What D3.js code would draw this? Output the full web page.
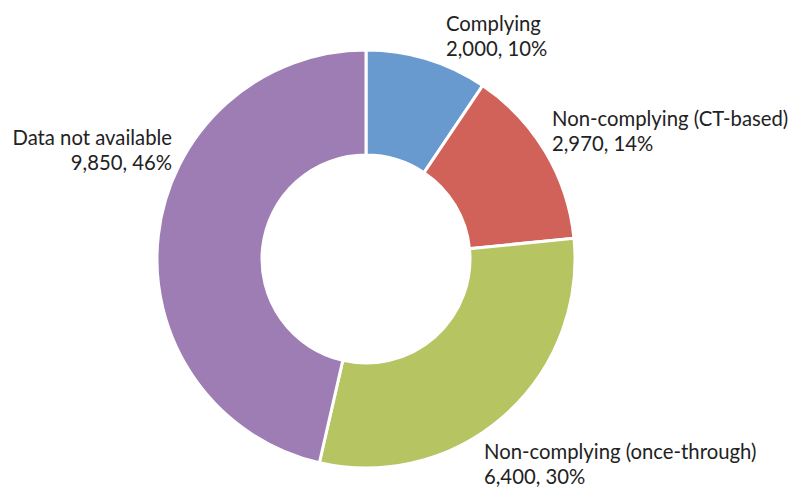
<!DOCTYPE html>
<html>
<head>
<meta charset="utf-8">
<script src="https://cdn.jsdelivr.net/npm/d3@7"></script>
<style>
  body { margin: 0; background: #fff; }
  text { font-family: "Lato", "Open Sans", sans-serif; fill: #222; }
</style>
</head>
<body>
<div class="chart"></div>
<script>
const categories = ["Complying", "Non-complying (CT-based)", "Non-complying (once-through)", "Data not available"];
const values = [2000, 2970, 6400, 9850];
const percents = [10, 14, 30, 46];
const colors = ["#6899cf", "#d0625a", "#b6c462", "#9d7db4"];

const width = 788, height = 489;
const cx = 366, cy = 259;
const outerR = 209, innerR = 104;

// label anchor: x, baseline of first line, text-anchor
const labelPos = [
  { x: 446, y: 31, anchor: "start" },
  { x: 552, y: 126, anchor: "start" },
  { x: 484, y: 459, anchor: "start" },
  { x: 172, y: 145, anchor: "end" }
];

const svg = d3.select(".chart").append("svg")
    .attr("width", width)
    .attr("height", height);

const g = svg.append("g")
    .attr("transform", `translate(${cx},${cy})`);

const data = categories.map((c, i) => ({ name: c, value: values[i], pct: percents[i], i }));

const pie = d3.pie()
    .sort(null)
    .value(d => d.value);

const arc = d3.arc()
    .innerRadius(innerR)
    .outerRadius(outerR);

g.selectAll("path")
    .data(pie(data))
    .enter()
    .append("path")
    .attr("d", arc)
    .attr("fill", d => colors[d.data.i])
    .attr("stroke", "white")
    .attr("stroke-width", 3)
    .attr("stroke-linejoin", "miter");

const fmt = d3.format(",");

const labels = svg.append("g")
    .selectAll("text")
    .data(data)
    .enter()
    .append("text")
    .attr("font-size", 20.3)
    .attr("text-anchor", d => labelPos[d.i].anchor)
    .attr("x", d => labelPos[d.i].x)
    .attr("y", d => labelPos[d.i].y);

labels.append("tspan")
    .attr("x", d => labelPos[d.i].x)
    .text(d => d.name);

labels.append("tspan")
    .attr("x", d => labelPos[d.i].x)
    .attr("dy", 25)
    .text(d => fmt(d.value) + ", " + d.pct + "%");
</script>
</body>
</html>
